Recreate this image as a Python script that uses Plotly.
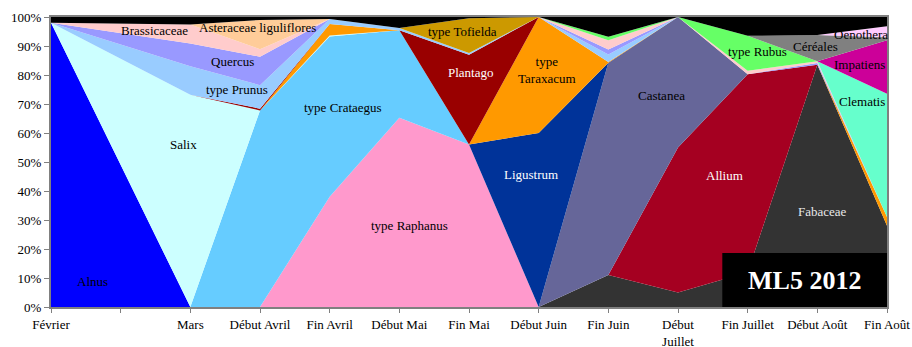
import plotly.graph_objects as go

# catégories de l'axe (la 2e n'a pas d'étiquette ni de données)
categories = ["Février", "", "Mars", "Début Avril", "Fin Avril", "Début Mai", "Fin Mai",
              "Début Juin", "Fin Juin", "Début<br>Juillet", "Fin Juillet", "Début Août", "Fin Août"]
sampled = [c for c in categories if c]

# pourcentages par taxon (ordre d'empilement, du bas vers le haut)
fabaceae    = [0, 0, 0, 0, 0, 0, 0, 11, 5, 12, 83.5, 28]
allium      = [0, 0, 0, 0, 0, 0, 0, 0, 50, 68.3, 0, 0]
castanea    = [0, 0, 0, 0, 0, 0, 0, 73.2, 45, 0, 0, 0]
alnus       = [98, 0, 0, 0, 0, 0, 0, 0, 0, 0, 0, 0]
raphanus    = [0, 0, 0, 38, 65.3, 56, 0, 0, 0, 0, 0, 0]
crataegus   = [0, 0, 67.8, 55.3, 30.1, 0, 0, 0, 0, 0, 0, 0]
salix       = [0, 73.2, 0, 0.3, 0, 0, 0, 0, 0, 0, 0, 0]
ligustrum   = [0, 0, 0, 0, 0, 0, 60, 0, 0, 0, 0, 0]
taraxacum   = [0, 0, 0, 4, 0, 0, 40, 0.3, 0, 0, 0, 3]
plantago    = [0, 0, 0.6, 0, 0, 31, 0, 0, 0, 0, 0, 0]
prunus      = [0, 9.8, 8.1, 1.7, 0.8, 0.6, 0, 2.6, 0, 0, 0, 0]
tofielda    = [0, 0, 0, 0, 0, 12, 0, 0, 0, 0, 0, 0]
quercus     = [0, 7.9, 9.8, 0, 0, 0, 0, 1.7, 0, 0, 0.6, 0]
brassicaceae = [0, 6.5, 2.6, 0, 0, 0, 0, 3.2, 0, 1.2, 0.6, 0]
asteraceae  = [0, 0, 10.1, 0, 0, 0, 0, 0, 0, 0, 0, 0]
rubus       = [0, 0, 0, 0, 0, 0, 0, 1.2, 0, 12, 0, 0]
clematis    = [0, 0, 0, 0, 0, 0, 0, 0, 0, 0, 0, 42.5]
impatiens   = [0, 0, 0, 0, 0, 0, 0, 0, 0, 0, 0, 18.5]
cereales    = [0, 0, 0, 0, 0, 0, 0, 0, 0, 0, 9.1, 1]
oenothera   = [0, 0, 0, 0, 0, 0, 0, 0, 0, 0, 0, 3.8]
autres      = [2, 2.6, 1, 0.7, 3.8, 0.4, 0, 6.8, 0, 6.5, 6.2, 3.2]

series = [
    ("Fabaceae", fabaceae, "#333333"),
    ("Allium", allium, "#A50021"),
    ("Castanea", castanea, "#666699"),
    ("Alnus", alnus, "#0000FF"),
    ("type Raphanus", raphanus, "#FF99CC"),
    ("type Crataegus", crataegus, "#66CCFF"),
    ("Salix", salix, "#CCFFFF"),
    ("Ligustrum", ligustrum, "#003399"),
    ("type Taraxacum", taraxacum, "#FF9900"),
    ("Plantago", plantago, "#990000"),
    ("type Prunus", prunus, "#99CCFF"),
    ("type Tofielda", tofielda, "#CC9900"),
    ("Quercus", quercus, "#9999FF"),
    ("Brassicaceae", brassicaceae, "#FFCCCC"),
    ("Asteraceae liguliflores", asteraceae, "#FFCC99"),
    ("type Rubus", rubus, "#66FF66"),
    ("Clematis", clematis, "#66FFCC"),
    ("Impatiens", impatiens, "#CC0099"),
    ("Céréales", cereales, "#808080"),
    ("Oenothera", oenothera, "#FFCCFF"),
    ("Autres", autres, "#000000"),
]

# étiquettes dans les aires : (texte, position catégorie, %, couleur)
labels = [
    ("Alnus", 0.6, 8.7, "black"),
    ("Salix", 1.9, 56, "black"),
    ("type Prunus", 2.67, 75, "black"),
    ("Quercus", 2.61, 84.5, "black"),
    ("Brassicaceae", 1.49, 95.3, "black"),
    ("Asteraceae liguliflores", 2.96, 96.3, "black"),
    ("type Crataegus", 4.19, 68.7, "black"),
    ("type Raphanus", 5.15, 28, "black"),
    ("Plantago", 6.03, 80.7, "white"),
    ("type Tofielda", 5.91, 95, "black"),
    ("type<br>Taraxacum", 7.12, 81.8, "black"),
    ("Ligustrum", 6.89, 45.6, "white"),
    ("Castanea", 8.77, 73, "black"),
    ("Allium", 9.67, 45.3, "white"),
    ("type Rubus", 10.14, 88, "black"),
    ("Céréales", 10.98, 89.8, "black"),
    ("Oenothera", 11.62, 94, "black"),
    ("Impatiens", 11.6, 83.5, "black"),
    ("Clematis", 11.64, 70.8, "black"),
    ("Fabaceae", 11.08, 32.8, "#E8E8E8"),
]

x_pos = [categories.index(c) for c in sampled]
font = "Liberation Serif"

fig = go.Figure()
for name, vals, col in series:
    fig.add_trace(go.Scatter(
        x=x_pos, y=vals, name=name, mode="lines", stackgroup="one",
        line=dict(width=0, color=col), fillcolor=col, showlegend=False
    ))

for txt, xv, yv, col in labels:
    fig.add_annotation(x=xv, y=yv, text=txt, showarrow=False,
                       xanchor="center", yanchor="middle",
                       font=dict(family=font, size=13, color=col))

# cartouche
fig.add_shape(type="rect", xref="paper", yref="paper", x0=0.803, x1=1.0, y0=0, y1=0.186,
              fillcolor="black", line=dict(width=0))
fig.add_annotation(xref="paper", yref="paper", x=0.9015, y=0.093, text="<b>ML5 2012</b>",
                   showarrow=False, xanchor="center", yanchor="middle",
                   font=dict(family=font, size=26, color="white"))

fig.update_layout(
    width=912, height=347,
    margin=dict(l=51, r=25, t=17, b=40),
    plot_bgcolor="white", paper_bgcolor="white",
    font=dict(family=font, size=13, color="black"),
    xaxis=dict(
        range=[0, len(categories) - 1], tickmode="array",
        tickvals=list(range(len(categories))), ticktext=categories,
        ticks="outside", ticklen=4, tickcolor="#808080", tickwidth=1,
        showline=True, linecolor="#808080", linewidth=2, mirror=True,
        showgrid=False, zeroline=False, tickangle=0, automargin=False,
    ),
    yaxis=dict(
        range=[0, 100], dtick=10, ticksuffix="%",
        ticks="outside", ticklen=5, tickcolor="#808080", tickwidth=1,
        showline=True, linecolor="#808080", linewidth=2, mirror=True,
        showgrid=False, zeroline=False, automargin=False,
    ),
)

# pas de marge de page autour du graphique, pas de barre d'outils
fig.write_html("out.html", config={"displayModeBar": False},
               post_script="document.body.style.margin='0';document.body.style.overflow='hidden';")
